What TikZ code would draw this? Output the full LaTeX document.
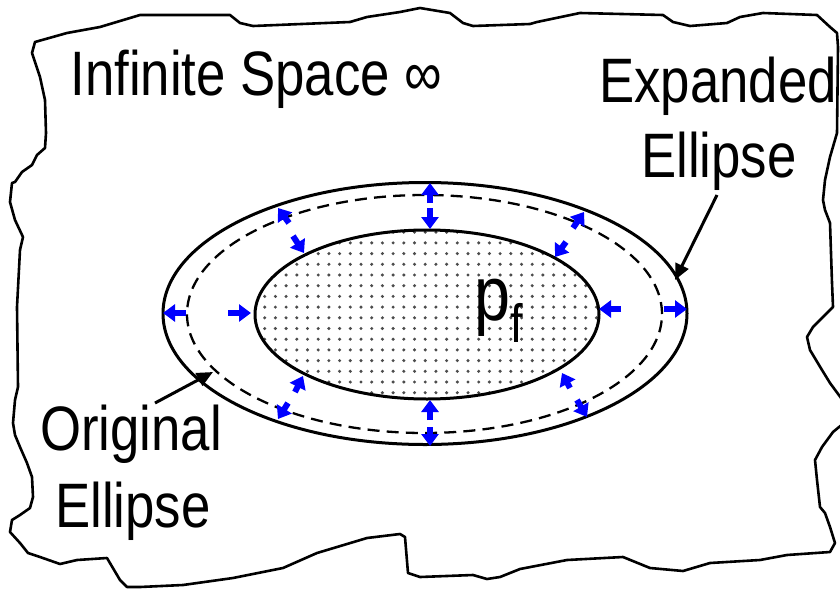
\documentclass[tikz,border=0pt]{standalone}
\usepackage{fontspec}
\setmainfont{Liberation Sans}
\usepackage{graphicx}
\usetikzlibrary{arrows.meta}
\newcommand\hsq[1]{\scalebox{0.84}[1]{#1}}
\begin{document}
\begin{tikzpicture}[x=0.5pt,y=-0.5pt,
  lbl/.style={inner sep=0pt, anchor=base, font=\fontsize{31.4}{37}\selectfont},
  outl/.style={line width=1.3pt, line join=round},
  ell/.style={line width=1.5pt},
  dashell/.style={line width=1.15pt, dash pattern=on 6pt off 3.6pt},
  push/.style={blue, line width=3pt, -{Triangle[length=6pt,width=8.5pt]}},
  leader/.style={line width=1.5pt, -{Triangle[length=8pt,width=7pt]}},
  dotc/.style={fill=black!70}]
\useasboundingbox (0,0) rectangle (840,589);
% hand-drawn border
\draw[outl] (35,42) -- (67,33) -- (100,27) -- (140,15) -- (230,15) -- (240,23) -- (253,26) -- (350,22) -- (367,17) -- (400,12) -- (420,8) -- (450,13) -- (463,23) -- (473,26) -- (530,24) -- (537,22) -- (580,13) -- (663,15) -- (673,22) -- (690,26) -- (727,23) -- (740,17) -- (763,13) -- (817,15) -- (830,27) -- (837,33)
 -- (838,47) -- (837,133) -- (830,157) -- (825,180) -- (823,200) -- (825,210) -- (830,223) -- (832,283) -- (833,307) -- (823,317) -- (813,327) -- (807,337) -- (810,350) -- (822,370) -- (830,383) -- (844,402) -- (844,423) -- (833,432) -- (822,447) -- (815,460) -- (817,480) -- (820,507) -- (825,513) -- (830,527) -- (835,543) -- (830,552)
 -- (787,555) -- (760,560) -- (710,563) -- (683,571) -- (650,568) -- (623,557) -- (567,560) -- (520,569) -- (500,577) -- (487,579) -- (473,575) -- (420,577) -- (408,573) -- (405,537) -- (400,534) -- (367,538) -- (317,553) -- (283,568) -- (233,578) -- (183,585) -- (140,587) -- (127,587) -- (120,580) -- (107,558) -- (77,560) -- (60,564) -- (40,557) -- (28,553) -- (20,543) -- (10,532) -- (12,520) -- (20,515) -- (30,508) -- (33,497) -- (32,477) -- (27,463) -- (20,447) -- (15,435) -- (13,423) -- (15,400) -- (18,387) -- (17,307) -- (20,250) -- (23,237) -- (15,220) -- (10,202) -- (12,183) -- (15,182) -- (22,172) -- (32,165) -- (37,155) -- (45,148) -- (46,133) -- (45,100) -- (40,77) -- (32,53) -- cycle;
% dotted inner region
\begin{scope}
  \clip (427,314.5) ellipse [x radius=86pt, y radius=42.25pt];
  \foreach \i in {-20,...,13} {
    \foreach \j in {-5,...,12} {
      \fill[dotc] ({468+10.7*\i},{275+10.7*\j}) circle (0.85pt);
    }
  }
\end{scope}
\draw[ell] (427,314.5) ellipse [x radius=86pt, y radius=42.25pt];
\draw[ell] (425,313.5) ellipse [x radius=131pt, y radius=65.5pt];
\draw[dashell] (424.5,314) ellipse [x radius=118.75pt, y radius=59.5pt];
% pressure arrows
\draw[push] (430,203) -- (430,183);
\draw[push] (430,208) -- (430,229);
\draw[push] (430,420) -- (430,400);
\draw[push] (430,427) -- (430,446);
\draw[push] (186,313) -- (163,313);
\draw[push] (228,313) -- (251,313);
\draw[push] (621,309) -- (599,309);
\draw[push] (664,309) -- (687,309);
\draw[push] (289,223) -- (278,208);
\draw[push] (293,236) -- (304,253);
\draw[push] (573,228) -- (584,212);
\draw[push] (566,242) -- (555,257);
\draw[push] (295,392) -- (303,376);
\draw[push] (288,403) -- (278,419);
\draw[push] (570,388) -- (562,373);
\draw[push] (577,400) -- (587,417);
% labels
\node[lbl, anchor=base west] (space) at (70,95) {\hsq{Infinite Space ∞}};
\node[lbl] (exp1) at (718,102) {\hsq{Expanded}};
\node[lbl] (exp2) at (719,177) {\hsq{Ellipse}};
\node[lbl] (org1) at (131,450) {\hsq{Original}};
\node[lbl] (org2) at (133,527) {\hsq{Ellipse}};
\node[inner sep=0pt, anchor=base west] (pf) at (474,320) {\hsq{\fontsize{38.5}{40}\selectfont p\fontsize{27}{28}\selectfont\raisebox{-11pt}{f}}};
% leader arrows
\coordinate (expfrom) at (717,195);
\coordinate (expto) at (675,280);
\coordinate (orgfrom) at (155,403);
\coordinate (orgto) at (213,372);
\draw[leader] (expfrom) -- (expto);
\draw[leader] (orgfrom) -- (orgto);
\end{tikzpicture}
\end{document}
